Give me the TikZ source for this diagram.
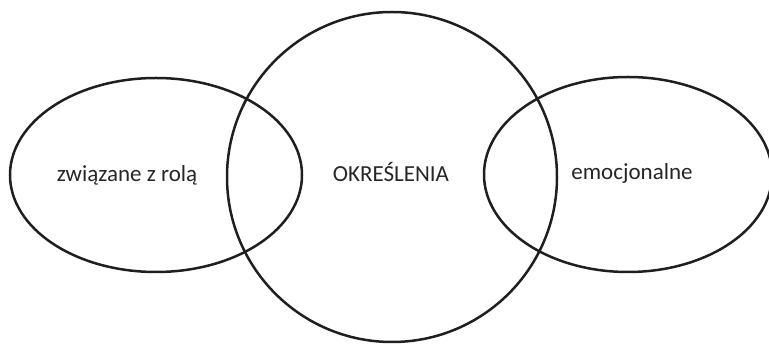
\documentclass[tikz,border=0pt]{standalone}
\usepackage{fontspec}
\setmainfont{Carlito}
\begin{document}
\begin{tikzpicture}[x=1pt,y=-1pt,
  shapeline/.style={draw=black!88, line width=2.5pt},
  lbl/.style={font=\fontsize{23}{27}\selectfont, text=black!85}]
\useasboundingbox (0,0) rectangle (769,344);
\clip (0,0) rectangle (769,344);
\draw[shapeline] (156,175) ellipse [x radius=146, y radius=97];
\draw[shapeline] (628,174.5) ellipse [x radius=144, y radius=97.5];
\draw[shapeline] (392,177) circle [radius=165];
\node[lbl] (left) at (127,175) {związane z rolą};
\node[lbl] (mid) at (391,172) {OKREŚLENIA};
\node[lbl] (right) at (632,173) {emocjonalne};
\end{tikzpicture}
\end{document}
